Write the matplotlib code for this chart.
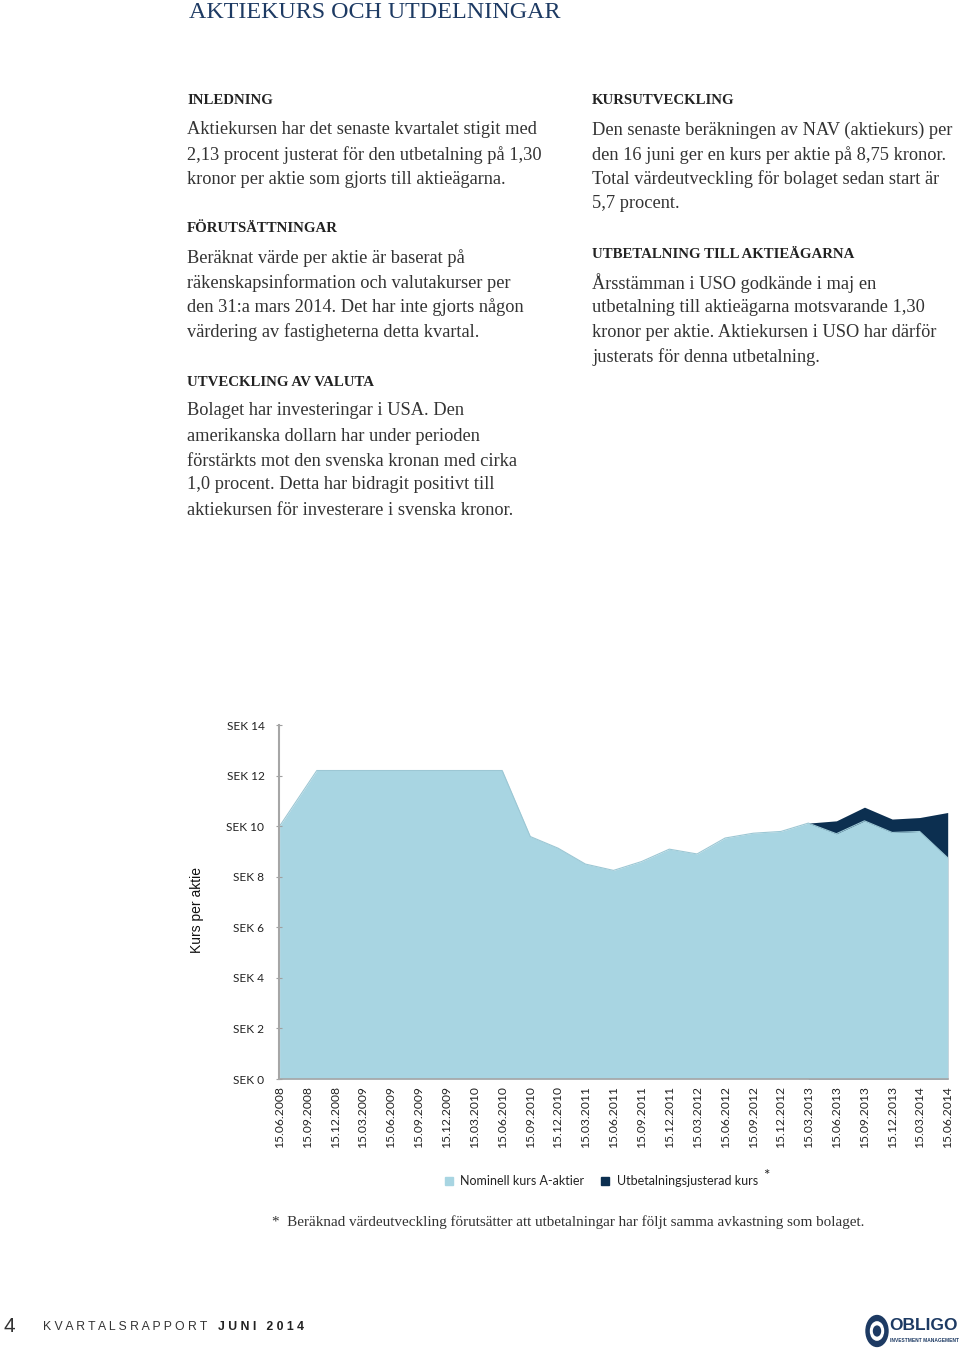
import matplotlib
matplotlib.use("Agg")
import matplotlib.pyplot as plt
import pandas as pd
from matplotlib.patches import Rectangle, Circle

# ---------------- data ----------------
tick_dates = ["2008-06-15", "2008-09-15", "2008-12-15", "2009-03-15", "2009-06-15",
              "2009-09-15", "2009-12-15", "2010-03-15", "2010-06-15", "2010-09-15",
              "2010-12-15", "2011-03-15", "2011-06-15", "2011-09-15", "2011-12-15",
              "2012-03-15", "2012-06-15", "2012-09-15", "2012-12-15", "2013-03-15",
              "2013-06-15", "2013-09-15", "2013-12-15", "2014-03-15", "2014-06-15"]

nominal_dates = ["2008-06-15", "2008-10-15", "2008-12-15", "2009-03-15", "2009-06-15",
                 "2009-09-15", "2009-12-15", "2010-03-15", "2010-06-15", "2010-09-15",
                 "2010-12-15", "2011-03-15", "2011-06-15", "2011-09-15", "2011-12-15",
                 "2012-03-15", "2012-06-15", "2012-09-15", "2012-12-15", "2013-03-15",
                 "2013-06-15", "2013-09-15", "2013-12-15", "2014-03-15", "2014-06-15"]
nominal_values = [10.0, 12.2, 12.2, 12.2, 12.2, 12.2, 12.2, 12.2, 12.2, 9.59,
                  9.13, 8.5, 8.25, 8.6, 9.09, 8.9, 9.53, 9.72, 9.79, 10.12,
                  9.7, 10.21, 9.75, 9.79, 8.75]

adjusted_dates = ["2013-03-15", "2013-06-15", "2013-09-15", "2013-12-15", "2014-03-15", "2014-06-15"]
adjusted_values = [10.12, 10.21, 10.75, 10.28, 10.34, 10.54]

y_ticks = [0, 2, 4, 6, 8, 10, 12, 14]
y_tick_labels = ["SEK 0", "SEK 2", "SEK 4", "SEK 6", "SEK 8", "SEK 10", "SEK 12", "SEK 14"]

series_names = ["Nominell kurs A-aktier", "Utbetalningsjusterad kurs"]

# ---------------- styles ----------------
LIGHT = "#a8d5e2"
DARK = "#0c2f50"
NAVY = "#1d3a63"
TEXT = "#333333"
SERIF = ["Liberation Serif", "DejaVu Serif"]
SANS_C = ["Lato", "DejaVu Sans"]

W, H = 960, 1349
fig = plt.figure(figsize=(W / 100, H / 100), dpi=100)


def fy(y):
    return 1 - y / H


def fx(x):
    return x / W


def txt(x, y, s, **kw):
    fig.text(fx(x), fy(y), s, **kw)


# Title
txt(189, 13, "AKTIEKURS OCH UTDELNINGAR", fontsize=17.3, color=NAVY,
    family=SERIF, va="center", ha="left")

body_kw = dict(fontsize=13.2, color=TEXT, family=SERIF, va="center", ha="left")
head_kw = dict(fontsize=10.7, color="#222222", family=SERIF, va="center", ha="left",
               fontweight="bold")

left_blocks = [
    (100, "INLEDNING", [129, 154, 178], [
        "Aktiekursen har det senaste kvartalet stigit med",
        "2,13 procent justerat för den utbetalning på 1,30",
        "kronor per aktie som gjorts till aktieägarna."]),
    (228, "FÖRUTSÄTTNINGAR", [257, 282, 306, 331], [
        "Beräknat värde per aktie är baserat på",
        "räkenskapsinformation och valutakurser per",
        "den 31:a mars 2014. Det har inte gjorts någon",
        "värdering av fastigheterna detta kvartal."]),
    (381, "UTVECKLING AV VALUTA", [410, 435, 460, 484, 509], [
        "Bolaget har investeringar i USA. Den",
        "amerikanska dollarn har under perioden",
        "förstärkts mot den svenska kronan med cirka",
        "1,0 procent. Detta har bidragit positivt till",
        "aktiekursen för investerare i svenska kronor."]),
]
right_blocks = [
    (100, "KURSUTVECKLING", [129, 154, 178, 203], [
        "Den senaste beräkningen av NAV (aktiekurs) per",
        "den 16 juni ger en kurs per aktie på 8,75 kronor.",
        "Total värdeutveckling för bolaget sedan start är",
        "5,7 procent."]),
    (253, "UTBETALNING TILL AKTIEÄGARNA", [282, 307, 331, 356], [
        "Årsstämman i USO godkände i maj en",
        "utbetalning till aktieägarna motsvarande 1,30",
        "kronor per aktie. Aktiekursen i USO har därför",
        "justerats för denna utbetalning."]),
]
for x0, blocks in ((187, left_blocks), (592, right_blocks)):
    for hy, head, ys, lines in blocks:
        txt(x0, hy + 1, head, **head_kw)
        for yy, line in zip(ys, lines):
            txt(x0, yy + 1, line, **body_kw)

# ---------------- chart ----------------
ax = fig.add_axes([fx(279), fy(1079), (948 - 279) / W, (1079 - 725) / H])
nd = pd.to_datetime(nominal_dates)
ad = pd.to_datetime(adjusted_dates)
td = pd.to_datetime(tick_dates)

ax.fill_between(ad, 0, adjusted_values, color=DARK, lw=0, label=series_names[1])
ax.fill_between(nd, 0, nominal_values, color=LIGHT, lw=0, label=series_names[0])
ax.plot(nd, nominal_values, color="#9cc7d4", lw=0.8)

ax.set_xlim(td[0] - pd.Timedelta(days=2), td[-1] + pd.Timedelta(days=1))
ax.set_ylim(0, 14)
ax.set_yticks(y_ticks)
ax.set_yticklabels(y_tick_labels, family=SANS_C, fontsize=8.6, color="#222222")
ax.set_xticks(td)
ax.set_xticklabels([d.strftime("%d.%m.%Y") for d in td], rotation=90,
                   family=SANS_C, fontsize=8.7, color="#222222")
ax.tick_params(axis="y", direction="inout", length=5, color="#a0a0a0", pad=8)
ax.tick_params(axis="x", length=0, pad=5)
for s in ("top", "right"):
    ax.spines[s].set_visible(False)
ax.spines["left"].set_color("#a6a6a6")
ax.spines["bottom"].set_color("#a6a6a6")
ax.spines["left"].set_linewidth(1.5)
ax.spines["bottom"].set_linewidth(1.2)
ax.patch.set_alpha(0)

txt(197, 910, "Kurs per aktie", rotation=90, fontsize=10, family=["Liberation Sans"],
    color="#111111", ha="center", va="center")

# legend (manual)
for sx, color, tx, label in ((449, LIGHT, 460, series_names[0]), (605, DARK, 617, series_names[1])):
    fig.patches.append(Rectangle((fx(sx - 4), fy(1185)), 8 / W, 8 / H, color=color,
                                 transform=fig.transFigure, figure=fig))
    txt(tx, 1181, label, fontsize=9, family=SANS_C, color="#222222", ha="left", va="center")
txt(766, 1176, "*", fontsize=11, family=SANS_C, color="#222222", ha="center", va="center")

txt(272, 1222, "*  Beräknad värdeutveckling förutsätter att utbetalningar har följt samma avkastning som bolaget.",
    fontsize=10.9, family=SERIF, color=TEXT, ha="left", va="center")

# footer
txt(3, 1326, "4", fontsize=15, family=["Liberation Sans"], color="#333333", ha="left", va="center")
txt(43, 1327, "K V A R T A L S R A P P O R T", fontsize=8.8, family=["Liberation Sans"],
    color="#333333", ha="left", va="center")
txt(218, 1327, "J U N I   2 0 1 4", fontsize=8.8, family=["Liberation Sans"],
    color="#222222", ha="left", va="center", fontweight="bold")

# logo
fig.patches.append(Circle((fx(877), fy(1331)), 11 / W, transform=fig.transFigure,
                          color=NAVY, figure=fig))
fig.patches.append(Circle((fx(877), fy(1331)), 6.5 / W, transform=fig.transFigure,
                          color="#ffffff", figure=fig))
fig.patches.append(Circle((fx(877), fy(1331)), 3.5 / W, transform=fig.transFigure,
                          color=NAVY, figure=fig))
txt(889, 1326, "OBLIGO", fontsize=12.5, family=["Liberation Sans"], fontweight="bold",
    color=NAVY, ha="left", va="center")
txt(890, 1340, "INVESTMENT MANAGEMENT", fontsize=3.5, family=["Liberation Sans"],
    fontweight="bold", color=NAVY, ha="left", va="center")

fig.savefig("out.png", dpi=100, facecolor="white")
